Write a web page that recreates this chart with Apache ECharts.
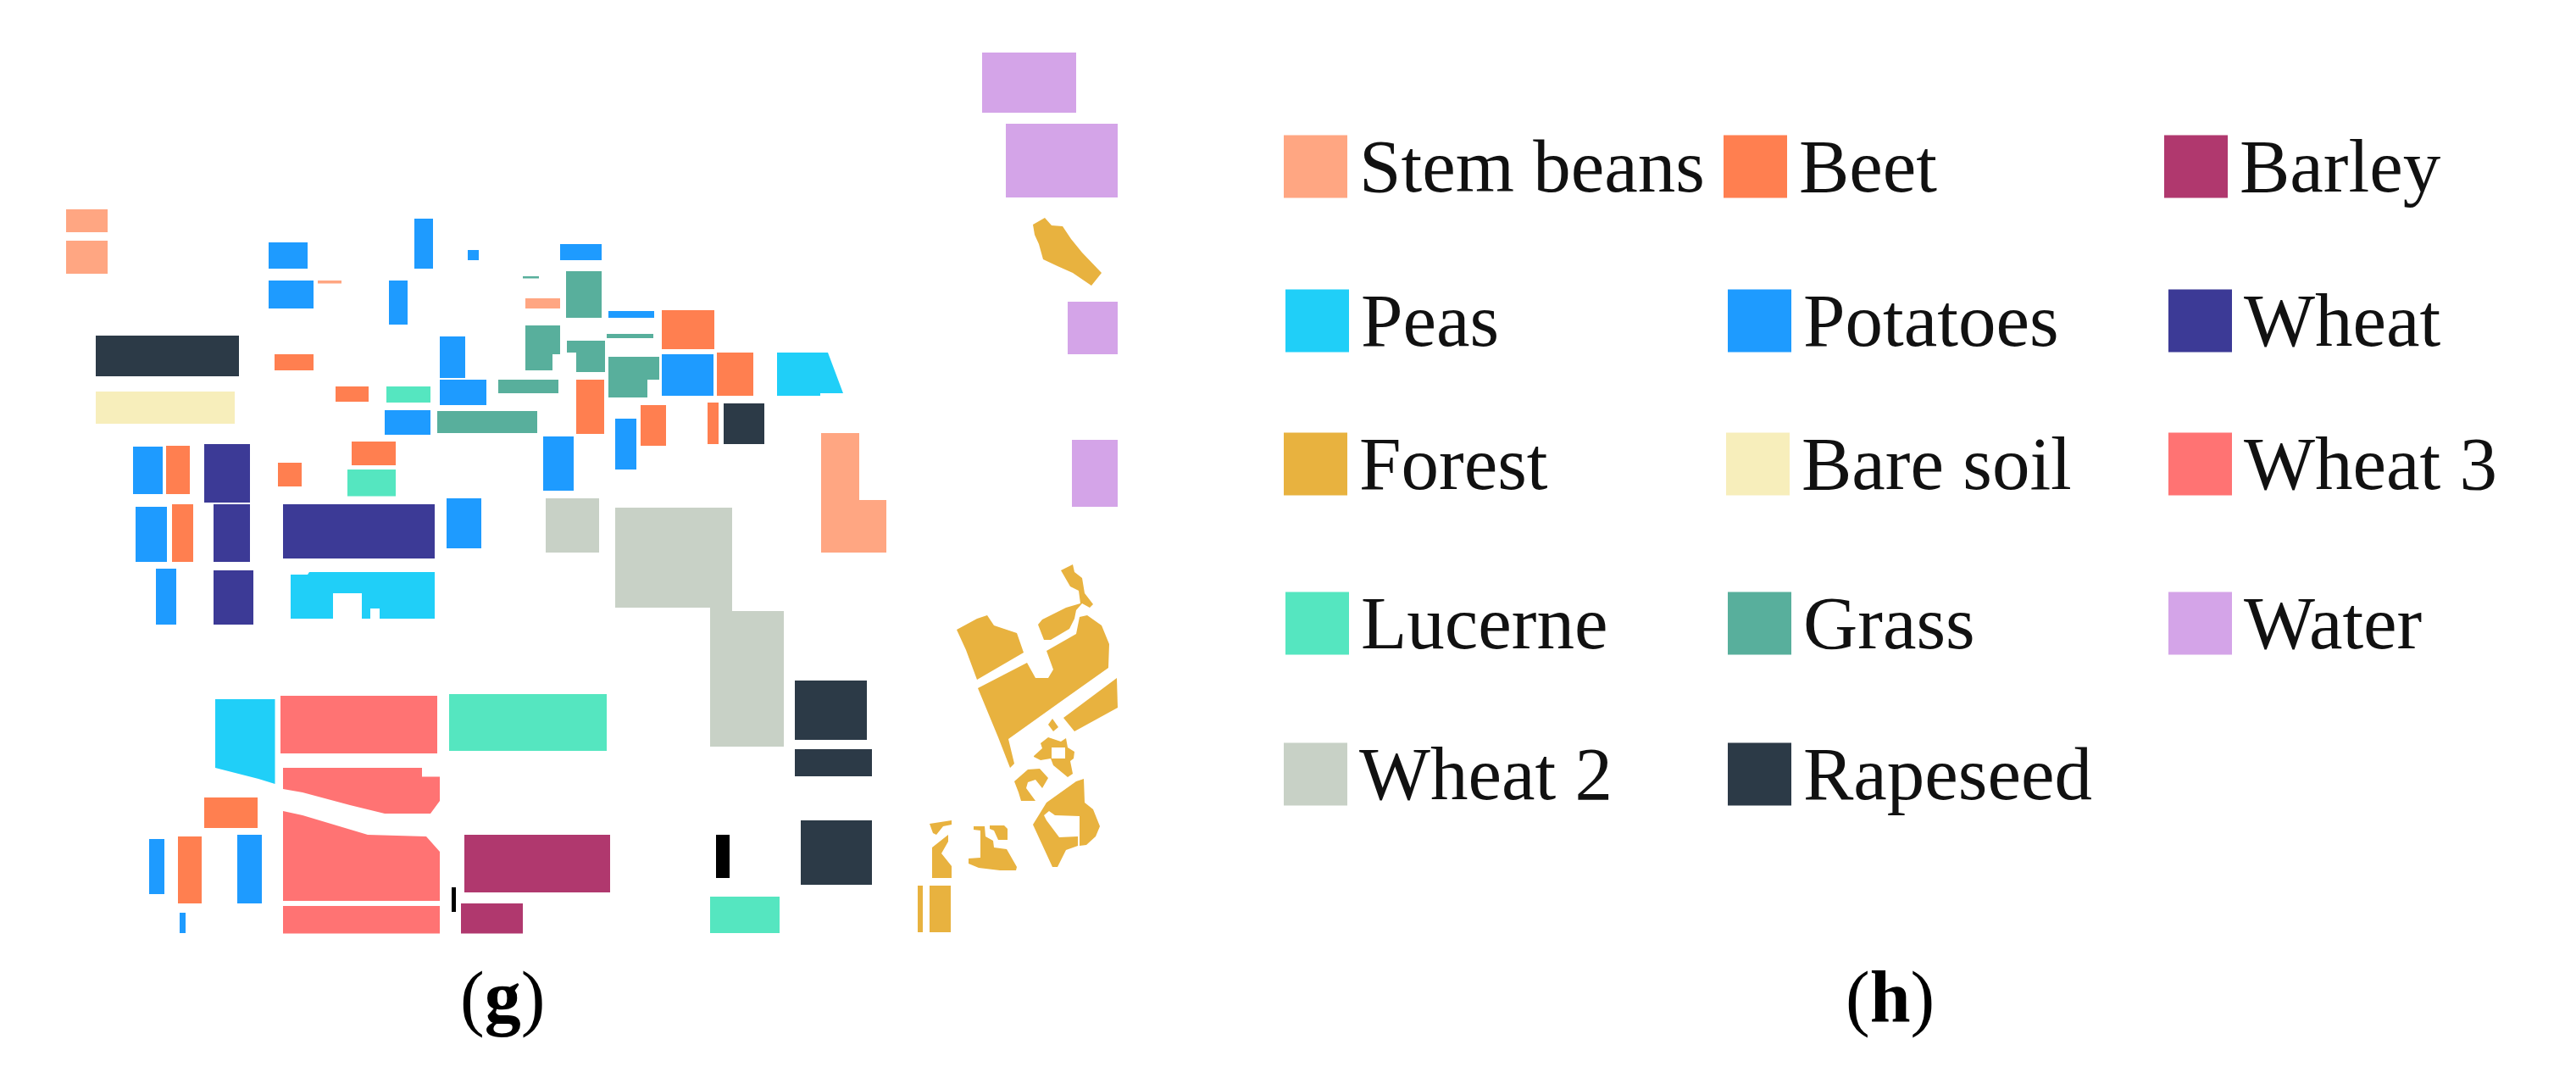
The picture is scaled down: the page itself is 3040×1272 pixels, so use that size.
<!DOCTYPE html>
<html>
<head>
<meta charset="utf-8">
<title>Land cover map and legend</title>
<script src="https://cdn.jsdelivr.net/npm/echarts@6/dist/echarts.min.js"></script>
<style>
  html, body { margin: 0; padding: 0; background: #fff; }
  #chart { width: 3040px; height: 1272px; }
</style>
</head>
<body>
<div id="chart"></div>
<script>
// map fields, in map units. four numbers = x0,y0,x1,y1 rectangle, otherwise a list of corner points
const stemBeans = [
  [78, 247, 127, 274], [78, 284, 127, 323], [375, 331, 403, 334.5], [620, 352, 661, 364],
  [[969, 511], [1014, 511], [1014, 590], [1046, 590], [1046, 652], [969, 652]],
]
const beet = [
  [324, 418, 370, 437], [396, 456, 435, 474], [680, 448, 713, 512], [756, 478, 786, 526],
  [415, 521, 467, 549], [328, 546, 356, 574], [196, 526, 224, 583], [203, 595, 228, 663],
  [781, 366, 843, 412], [846, 416, 889, 467], [835, 475, 848, 524], [241, 941, 304, 977],
  [210, 987, 238, 1066],
]
const barley = [[548, 985, 720, 1053], [544, 1066, 617, 1101.5]]
const peas = [
  [[917, 416], [977, 416], [995, 464], [968, 464], [968, 467], [917, 467]],
  [[343, 678], [363, 678], [365, 675], [513, 675], [513, 730], [448, 730], [448, 718], [437, 718],
    [437, 730], [427, 730], [427, 700], [393, 700], [393, 730], [343, 730]],
  [[254, 825], [324.5, 825], [324.5, 925], [305, 919], [254, 906]],
]
const potatoes = [
  [317, 286, 363, 317], [317, 331, 370, 364], [489, 258, 511, 317], [552, 295, 565, 307],
  [661, 288, 710, 307], [459, 331, 481, 383], [718, 367, 772, 375], [519, 397, 549, 446],
  [519, 448, 574, 478], [454, 484, 508, 513], [641, 515, 677, 579], [726, 494, 751, 554],
  [781, 418, 842, 467], [157, 527, 192, 583], [160, 598, 197, 663], [527, 588, 568, 647],
  [184, 671, 208, 737], [176, 990, 194, 1055], [280, 985, 309, 1066], [212, 1077, 219, 1101],
]
const wheat = [[241, 524, 295, 593], [252, 595, 295, 663], [334, 595, 513, 659], [252, 673, 299, 737]]
const forest = [
  [[1219, 265], [1233, 257], [1241, 266], [1254, 267], [1264, 282], [1277, 298], [1300, 322], [1288, 337],
    [1266, 322], [1248, 314], [1231, 306], [1226, 288], [1221, 277]],
  [[1129, 743], [1153, 730], [1165, 726], [1173, 738], [1200, 747], [1208, 770], [1153, 802], [1140, 767]],
  [[1154, 812], [1212, 782], [1222, 800], [1237, 800], [1243, 790], [1235, 768], [1270, 748], [1274, 728], [1283, 726],
    [1300, 738], [1309, 760], [1308, 788], [1253, 827], [1190, 872], [1197, 901], [1192, 906], [1178, 870]],
  [[1252, 673], [1266, 666], [1268, 675], [1277, 682], [1280, 700], [1290, 713], [1286, 717], [1277, 712], [1270, 720],
    [1268, 730], [1262, 742], [1240, 755], [1232, 755], [1225, 737], [1230, 731], [1258, 717], [1275, 712], [1273, 697], [1263, 692]],
  [[1255, 847], [1318, 800], [1319, 835], [1268, 863]],
  [[1237, 855], [1242, 848], [1249, 858], [1243, 863]],
  // ring keeps its hole, joined to the outline by a seam
  [[1220, 892], [1230, 883], [1228, 877], [1237, 870], [1252, 875], [1258, 871], [1260, 882], [1268, 887], [1267, 895],
    [1263, 898], [1266, 913], [1260, 917], [1243, 903], [1240, 895], [1241, 895], [1257, 895], [1257, 882], [1241, 882],
    [1241, 895], [1240, 895], [1228, 897], [1220, 893]],
  [[1197, 922], [1213, 908], [1227, 907], [1237, 918], [1230, 930], [1222, 920], [1213, 923], [1211, 930], [1222, 945], [1205, 945], [1202, 935]],
  [[1219, 973], [1235, 947], [1270, 922], [1279, 919], [1280, 947], [1290, 955], [1298, 975], [1293, 987], [1282, 997], [1274, 998],
    [1274, 963], [1245, 962], [1238, 957], [1232, 962], [1235, 968], [1250, 988], [1272, 987], [1272, 998], [1258, 1003], [1248, 1023], [1242, 1023]],
  [[1097, 972], [1123, 968], [1123, 973], [1113, 975], [1105, 985], [1101, 983]],
  [[1100, 1000], [1119, 985], [1119, 993], [1111, 1007], [1123, 1022], [1123, 1036], [1100, 1036]],
  [[1149, 975], [1162, 975], [1163, 987], [1172, 992], [1173, 1000], [1188, 1002], [1200, 1023], [1199, 1027], [1180, 1027],
    [1155, 1024], [1143, 1019], [1143, 1013], [1157, 1012], [1157, 980], [1149, 979]],
  [[1168, 974], [1185, 974], [1189, 978], [1189, 991], [1178, 991], [1173, 980], [1168, 978]],
  [1083, 1045, 1089, 1100], [1097, 1045, 1122, 1100],
]
const bareSoil = [[113, 462, 277, 500]]
const wheat3 = [
  [331, 821, 516, 889],
  [[334, 906], [498, 906], [498, 916.5], [519, 916.5], [519, 945], [508, 960], [454, 960], [413, 950], [357, 935], [334, 931]],
  [[334, 957], [357, 962], [434, 985], [503, 987], [519, 1005], [519, 1063], [334, 1063]],
  [334, 1069, 519, 1101.5],
]
const lucerne = [[456, 456, 508, 475], [410, 554, 467, 585.5], [530, 819, 716, 886], [838, 1058, 920, 1101]]
const grass = [
  [668, 320, 710, 375], [617, 326, 636, 328.5], [716, 394, 771, 399], [588, 448, 659, 464], [516, 485, 634, 511],
  [[620, 384], [661, 384], [661, 418], [652, 418], [652, 437], [620, 437]],
  [[669, 402], [714, 402], [714, 439], [680, 439], [680, 416], [669, 416]],
  [[718, 421], [778, 421], [778, 448], [764, 448], [764, 469], [718, 469]],
]
const water = [[1159, 62, 1270, 133], [1187, 146, 1319, 233], [1260, 356, 1319, 418], [1265, 519, 1319, 598]]
const wheat2 = [
  [644, 588, 707, 652],
  [[726, 599], [864, 599], [864, 721], [925, 721], [925, 881], [838, 881], [838, 717], [726, 717]],
]
const rapeseed = [[113, 396, 282, 444], [854, 476, 902, 524], [938, 803, 1023, 873], [938, 884, 1029, 916], [945, 968, 1029, 1044]]
const unlabelled = [[845, 985, 861, 1036], [533, 1047, 538, 1076]]

// legend rows, left to right
const classNames = ['Stem beans', 'Beet', 'Barley', 'Peas', 'Potatoes', 'Wheat', 'Forest', 'Bare soil', 'Wheat 3', 'Lucerne', 'Grass', 'Water', 'Wheat 2', 'Rapeseed']
const classFields = [stemBeans, beet, barley, peas, potatoes, wheat, forest, bareSoil, wheat3, lucerne, grass, water, wheat2, rapeseed]
const classColors = ['#FFA682', '#FF7F50', '#B0386E', '#20CFF8', '#1E9BFF', '#3C3A96', '#E8B23F', '#F7EEBB', '#FF7373', '#55E6C0', '#58AF9C', '#D4A4E8', '#C8D1C6', '#2C3A47']

const legendLeft = [1515, 2034, 2554, 1517, 2039, 2559, 1515, 2037, 2559, 1517, 2039, 2559, 1515, 2039]
const legendTop = [158, 158, 158, 340, 340, 340, 509, 509, 509, 697, 697, 697, 875, 875]

const toPoints = f => Array.isArray(f[0]) ? f : [[f[0], f[1]], [f[2], f[1]], [f[2], f[3]], [f[0], f[3]]]

function makeSeries(name, fields, color) {
  return {
    name: name,
    type: 'custom',
    coordinateSystem: 'cartesian2d',
    silent: true,
    clip: false,
    itemStyle: { color: color },
    encode: { x: 0, y: 1 },
    data: fields.map(f => toPoints(f)[0]),
    renderItem: (params, api) => ({
      type: 'polygon',
      shape: { points: toPoints(fields[params.dataIndex]).map(p => api.coord(p)) },
      style: { fill: color },
    }),
  }
}

const series = classNames.map((n, i) => makeSeries(n, classFields[i], classColors[i]))
series.push(makeSeries('Unlabelled', unlabelled, '#000000'))

const serif = '"Liberation Serif", serif'

const option = {
  animation: false,
  backgroundColor: '#ffffff',
  grid: { left: 0, right: 0, top: 0, bottom: 0 },
  xAxis: { type: 'value', min: 0, max: 3040, show: false },
  yAxis: { type: 'value', min: 0, max: 1272, inverse: true, show: false },
  legend: classNames.map((n, i) => ({
    data: [n],
    left: legendLeft[i],
    top: legendTop[i],
    padding: 0,
    selectedMode: false,
    icon: 'rect',
    itemWidth: 75,
    itemHeight: 74,
    formatter: '{t|{name}}',
    textStyle: {
      rich: { t: { fontFamily: serif, fontSize: 89, color: '#111', padding: [12, 0, 0, 9] } },
    },
  })),
  title: [
    { text: '{a|(}{b|g}{a|)}', left: 543, top: 1140 },
    { text: '{a|(}{b|h}{a|)}', left: 2178, top: 1140 },
  ].map(t => ({
    ...t,
    padding: 0,
    textStyle: {
      rich: {
        a: { fontFamily: serif, fontSize: 86, fontWeight: 'normal', color: '#000' },
        b: { fontFamily: serif, fontSize: 86, fontWeight: 'bold', color: '#000' },
      },
    },
  })),
  series: series,
}

const chart = echarts.init(document.getElementById('chart'))
chart.setOption(option)
</script>
</body>
</html>
